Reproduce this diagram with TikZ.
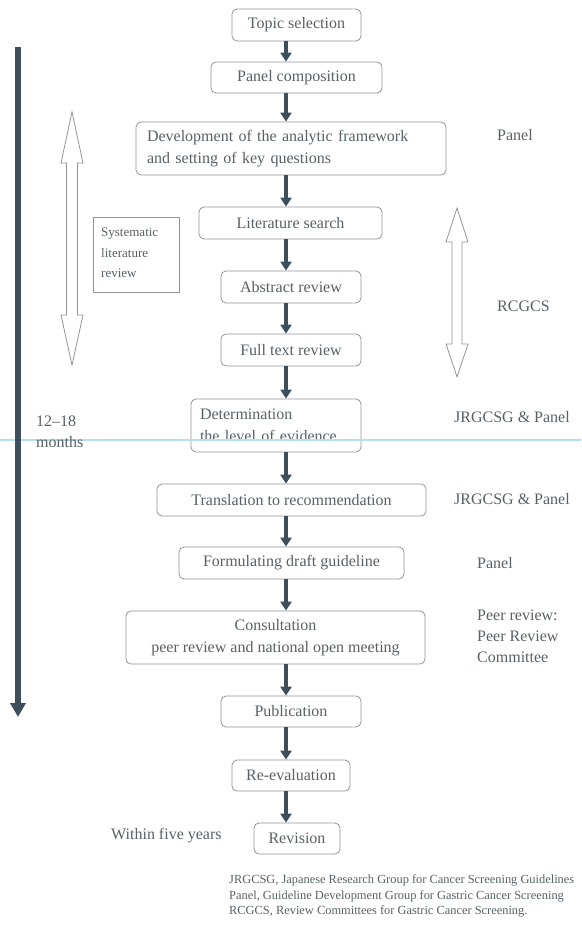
\documentclass[tikz,border=0pt]{standalone}
\usepackage{fontspec}
\setmainfont{Liberation Serif}
\usetikzlibrary{arrows.meta}
\definecolor{txt}{HTML}{586166}
\definecolor{bord}{HTML}{8E9498}
\definecolor{arr}{HTML}{3E4E5A}
\definecolor{cyanline}{HTML}{B3E1E8}
\begin{document}
\begin{tikzpicture}[x=1pt,y=-1pt,
 stepbox/.style={draw=bord, line width=0.8pt, rounded corners=5pt, text=txt,
   font=\fontsize{16}{21.5}\selectfont, inner sep=0pt, align=center},
 flow/.style={draw=arr, line width=4pt, -{Triangle[width=11pt,length=9pt]}},
 bigflow/.style={draw=arr, line width=6pt, -{Triangle[width=15pt,length=14pt]}},
 lab/.style={text=txt, font=\fontsize{16}{21}\selectfont, anchor=west, inner sep=0pt, align=left},
 hollow/.style={draw=bord, line width=0.8pt, fill=white, line join=miter}]
\useasboundingbox (0,0) rectangle (581,933);
\fill[white] (0,0) rectangle (581,933);

% flow boxes
\node[stepbox, minimum width=129pt, minimum height=32pt] (n1) at (296.5,25) {Topic selection};
\node[stepbox, minimum width=171pt, minimum height=31pt] (n2) at (296.5,77.5) {Panel composition};
\node[stepbox, minimum width=310pt, minimum height=53pt, align=left, text width=288pt, inner xsep=11pt] (n3) at (291,148.5) {Development of the analytic framework\\and setting of key questions};
\node[stepbox, minimum width=183pt, minimum height=32pt] (n4) at (290.5,223) {Literature search};
\node[stepbox, minimum width=140pt, minimum height=32pt] (n5) at (291,287) {Abstract review};
\node[stepbox, minimum width=140pt, minimum height=32pt] (n6) at (291,350) {Full text review};
\node[stepbox, minimum width=170pt, minimum height=53pt, align=left, text width=152pt, inner xsep=9pt] (n7) at (276,425.5) {Determination\\the level of evidence};
\node[stepbox, minimum width=269pt, minimum height=32pt] (n8) at (291.5,500) {Translation to recommendation};
\node[stepbox, minimum width=225pt, minimum height=32pt] (n9) at (291.5,563) {Formulating draft guideline};
\node[stepbox, minimum width=299pt, minimum height=53pt] (n10) at (275.5,637.5) {Consultation\\peer review and national open meeting};
\node[stepbox, minimum width=140pt, minimum height=31pt] (n11) at (291,711.5) {Publication};
\node[stepbox, minimum width=118pt, minimum height=31pt] (n12) at (291,775.5) {Re-evaluation};
\node[stepbox, minimum width=86pt, minimum height=31pt] (n13) at (297,838.5) {Revision};

% arrows in the flow column
\coordinate (ax) at (286,0);
\foreach \a/\b in {n1/n2,n2/n3,n3/n4,n4/n5,n5/n6,n6/n7,n7/n8,n8/n9,n9/n10,n10/n11,n11/n12,n12/n13}
  \draw[flow] (\a.south -| ax) -- (\b.north -| ax);

% scan line
\draw[cyanline, line width=1.2pt] (0,440) -- (581,440);

% time arrow
\coordinate (tTop) at (18,47);
\coordinate (tEnd) at (18,717);
\draw[bigflow] (tTop) -- (tEnd);
\node[lab] (months) at (36,432) {12–18\\months};

% hollow double arrows
\draw[hollow] (72,112) -- (83,163) -- (77.5,163) -- (77.5,315) -- (83,315) -- (72,365)
  -- (61,315) -- (66.5,315) -- (66.5,163) -- (61,163) -- cycle;
\draw[hollow] (457,208) -- (468,242) -- (462,242) -- (462,344) -- (468,344) -- (457,377)
  -- (446,344) -- (452,344) -- (452,242) -- (446,242) -- cycle;

% systematic review box
\draw[bord, line width=0.8pt] (93,217) rectangle (179,292);
\node[lab, font=\fontsize{13}{20.5}\selectfont] (sys) at (101,253) {Systematic\\literature\\review};

% right labels
\node[lab] (r1) at (497,135) {Panel};
\node[lab] (r2) at (497,306) {RCGCS};
\node[lab] (r3) at (454,417) {JRGCSG \& Panel};
\node[lab] (r4) at (454,499) {JRGCSG \& Panel};
\node[lab] (r5) at (477,563) {Panel};
\node[lab] (r6) at (477,636) {Peer review:\\Peer Review\\Committee};
\node[lab] (w5) at (111,836) {Within five years};

% footnote
\node[lab, font=\fontsize{12.4}{15.5}\selectfont] (foot) at (229,896) {JRGCSG, Japanese Research Group for Cancer Screening Guidelines\\Panel, Guideline Development Group for Gastric Cancer Screening\\RCGCS, Review Committees for Gastric Cancer Screening.};
\end{tikzpicture}
\end{document}
